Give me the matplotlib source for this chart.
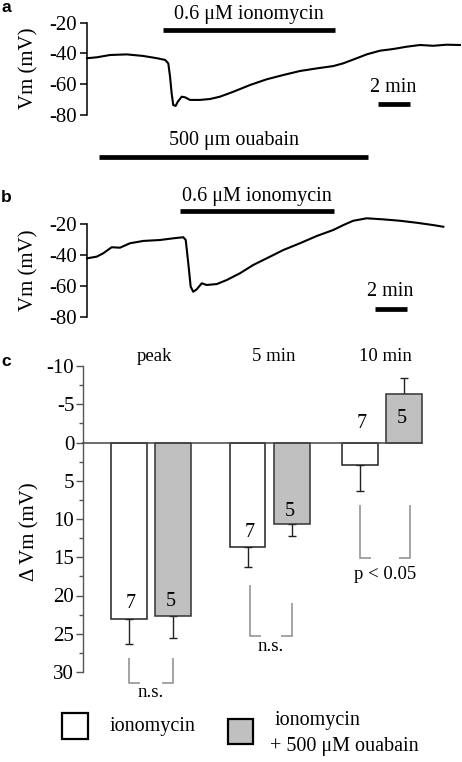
import matplotlib
matplotlib.use('Agg')
import matplotlib.pyplot as plt
from matplotlib.patches import Rectangle
from matplotlib.transforms import blended_transform_factory
from matplotlib.ticker import MultipleLocator, FuncFormatter

plt.rcParams['font.family'] = ['Liberation Serif', 'DejaVu Serif']
plt.rcParams['axes.unicode_minus'] = False

# ---------------- data ----------------
# panel a: membrane potential trace (time in min, Vm in mV)
time_a = [0.0, 0.61, 1.44, 2.48, 3.5, 4.38, 4.88, 5.08, 5.19, 5.29, 5.39, 5.54, 5.67,
          5.92, 6.13, 6.44, 7.06, 7.69, 8.31, 9.14, 10.19, 11.23, 12.27, 13.31, 14.36,
          15.39, 16.02, 16.86, 17.48, 18.31, 19.14, 19.98, 20.81, 21.64, 22.48, 23.31]
vm_a = [-43.1, -42.5, -41.0, -40.6, -41.6, -43.1, -44.2, -46.4, -55.0, -65.9, -73.5,
        -74.1, -71.4, -68.1, -68.5, -70.2, -70.2, -69.6, -68.1, -64.9, -60.5, -56.8,
        -54.0, -51.4, -49.7, -48.2, -46.4, -43.1, -40.6, -38.2, -37.1, -35.6, -34.5,
        -35.0, -34.3, -34.5]
iono_a = [4.77, 15.5]

# panel b
time_b = [0.0, 0.61, 1.02, 1.54, 2.06, 2.69, 3.52, 4.56, 5.39, 6.02, 6.17, 6.33, 6.48,
          6.64, 6.86, 7.17, 7.48, 8.11, 8.73, 9.56, 10.39, 11.23, 12.27, 13.31, 14.36,
          15.39, 16.02, 16.64, 17.48, 18.52, 19.56, 20.61, 21.64, 22.27]
vm_b = [-42.1, -41.0, -38.8, -34.9, -35.2, -32.3, -30.8, -30.2, -29.1, -28.4, -30.2,
        -45.3, -60.5, -63.8, -62.2, -58.3, -59.4, -58.8, -56.2, -51.8, -46.4, -42.1,
        -36.7, -32.3, -27.6, -23.7, -20.5, -17.7, -16.1, -16.8, -17.7, -19.0, -20.5,
        -21.6]
ouabain_b = [0.77, 17.58]
iono_b = [5.81, 15.44]

vm_ticks = [-80, -60, -40, -20]
scale_len = 2  # min

# panel c
groups = ['peak', '5 min', '10 min']
iono_mean = [23.1, 13.7, 3.0]
iono_err = [3.3, 2.6, 3.3]
ouab_mean = [22.7, 10.7, -6.35]
ouab_err = [2.9, 1.5, 2.05]
iono_n = [7, 7, 7]
ouab_n = [5, 5, 5]
sig_labels = ['n.s.', 'n.s.', 'p < 0.05']

# ---------------- layout ----------------
W, H = 462, 762
fig = plt.figure(figsize=(W / 100, H / 100), dpi=100)


def rect(l, t, r, b):
    return [l / W, 1 - b / H, (r - l) / W, (b - t) / H]


def fy(y):
    return 1 - y / H


FS = 14.5
TRACE_LW = 1.5
BAR_LW = 3.4
LETTER_FS = 12.5


def trace_panel(ax_rect, t, v, drugs, scale_x, scale_y, scale_text_y, label, label_y, ylab_y):
    ax = fig.add_axes(ax_rect)
    ax.plot(t, v, color='black', lw=TRACE_LW, solid_joinstyle='round', clip_on=False)
    ax.set_xlim(0, (W - 87) / 16)
    ax.set_ylim(-80, -20)
    ax.set_yticks(vm_ticks)
    ax.yaxis.set_major_formatter(FuncFormatter(lambda val, p: '%d' % val))
    ax.tick_params(axis='y', direction='out', length=5, width=1.1, pad=2.5,
                   labelsize=15, colors='black')
    ax.set_xticks([])
    for s in ['top', 'right', 'bottom']:
        ax.spines[s].set_visible(False)
    ax.spines['left'].set_linewidth(1.1)
    ax.patch.set_alpha(0)
    tr = blended_transform_factory(ax.transData, fig.transFigure)
    for (t0, t1), bar_y, text, text_y in drugs:
        ax.plot([t0, t1], [fy(bar_y), fy(bar_y)], color='black', lw=BAR_LW,
                transform=tr, clip_on=False, solid_capstyle='butt')
        ax.text((t0 + t1) / 2, fy(text_y), text, transform=tr, ha='center',
                va='center', fontsize=FS)
    ax.plot([scale_x, scale_x + scale_len], [fy(scale_y), fy(scale_y)], color='black',
            lw=BAR_LW, transform=tr, clip_on=False, solid_capstyle='butt')
    ax.text(scale_x + scale_len / 2 - 0.08, fy(scale_text_y), '%d min' % scale_len,
            transform=tr, ha='center', va='center', fontsize=FS)
    fig.text(1 / W, fy(label_y), label, family='Liberation Sans', weight='bold',
             fontsize=LETTER_FS, ha='left', va='center')
    fig.text(29 / W, fy(ylab_y), 'Vm (mV)', rotation=90, ha='center', va='center',
             fontsize=15)
    return ax


trace_panel(rect(87, 22.7, W, 115), time_a, vm_a,
            [(iono_a, 30, '0.6 \u03bcM ionomycin', 15)],
            18.2, 104.3, 88, 'a', 7, 68)
trace_panel(rect(87, 224.3, W, 316.7), time_b, vm_b,
            [(ouabain_b, 157.3, '500 \u03bcm ouabain', 140),
             (iono_b, 210.7, '0.6 \u03bcM ionomycin', 196.5)],
            18.0, 309.3, 291.5, 'b', 197, 270)

# ---------------- panel c ----------------
axc = fig.add_axes(rect(83.3, 366, W, 672))
axc.set_xlim(-0.586, 2.693)
axc.set_ylim(30, -10)
gpos = [0.0, 1.03, 2.0]
off = 0.192
bw = 0.307
gray = '#c0c0c0'

xi = [g - off for g in gpos]
xo = [g + off for g in gpos]


def yerr(means, errs):
    lo = [e if m < 0 else 0 for m, e in zip(means, errs)]
    hi = [e if m >= 0 else 0 for m, e in zip(means, errs)]
    return [lo, hi]


axc.bar(xi, iono_mean, width=bw, color='white', edgecolor='#222222', linewidth=1.1,
        zorder=3, yerr=yerr(iono_mean, iono_err), capsize=3,
        error_kw=dict(ecolor='#222222', elinewidth=1.0, capthick=1.0, zorder=2))
axc.bar(xo, ouab_mean, width=bw, color=gray, edgecolor='#333333', linewidth=1.1,
        zorder=3, yerr=yerr(ouab_mean, ouab_err), capsize=3,
        error_kw=dict(ecolor='#222222', elinewidth=1.0, capthick=1.0, zorder=2))
axc.plot([axc.get_xlim()[0], xo[-1] + bw / 2], [0, 0], color='#444444', lw=1.1,
         zorder=4, clip_on=False)

# n labels
n_y_iono = [21.1, 11.7, -2.5]
n_y_ouab = [20.8, 9.0, -3.2]
for x, y, n in zip(xi, n_y_iono, iono_n):
    axc.text(x + 0.02, y, str(n), ha='center', va='center', fontsize=FS, zorder=5)
for x, y, n in zip(xo, n_y_ouab, ouab_n):
    axc.text(x - 0.02, y, str(n), ha='center', va='center', fontsize=FS, zorder=5)

# group labels
for g, name in zip(gpos, groups):
    axc.text(g + 0.03, -11.2, name, ha='center', va='center', fontsize=13.5,
             clip_on=False)

# significance brackets
br = [((28.2, 31.4), (28.2, 31.4), 32.7),
      ((18.6, 25.3), (21.0, 25.3), 26.7),
      ((8.2, 15.1), (8.2, 15.1), 17.2)]
foot = 0.095
for i, ((l0, l1), (r0, r1), ty) in enumerate(br):
    xl = xi[i] + (0.02 if i == 1 else 0)
    xr = xo[i] + (0.05 if i == 2 else 0)
    kw = dict(color='#8c8c8c', lw=1.1, clip_on=False, solid_capstyle='butt',
              solid_joinstyle='miter')
    axc.plot([xl, xl, xl + foot], [l0, l1, l1], **kw)
    axc.plot([xr - foot, xr, xr], [r1, r1, r0], **kw)
    axc.text((xl + xr) / 2, ty, sig_labels[i], ha='center', va='center',
             fontsize=13.5, clip_on=False)

axc.yaxis.set_major_locator(MultipleLocator(5))
axc.yaxis.set_minor_locator(MultipleLocator(2.5))
axc.yaxis.set_major_formatter(FuncFormatter(lambda val, p: '%d' % val))
axc.tick_params(axis='y', which='major', direction='out', length=5, width=1.0,
                pad=1.5, labelsize=15, color='#555555')
axc.tick_params(axis='y', which='minor', direction='out', length=3, width=1.0,
                color='#555555')
axc.set_xticks([])
for s in ['top', 'right', 'bottom']:
    axc.spines[s].set_visible(False)
axc.spines['left'].set_color('#555555')
axc.spines['left'].set_linewidth(1.0)
axc.patch.set_alpha(0)

fig.text(1 / W, fy(362), 'c', family='Liberation Sans', weight='bold',
         fontsize=LETTER_FS, ha='left', va='center')
fig.text(30 / W, fy(532), '\u0394 Vm (mV)', rotation=90, ha='center', va='center',
         fontsize=15)

# legend
fig.patches.append(Rectangle((62 / W, fy(739)), 26 / W, 26 / H, transform=fig.transFigure,
                             facecolor='white', edgecolor='black', lw=1.6))
fig.patches.append(Rectangle((228 / W, fy(744)), 25 / W, 25 / H, transform=fig.transFigure,
                             facecolor=gray, edgecolor='black', lw=1.6))
fig.text(110 / W, fy(727), 'ionomycin', ha='left', va='center', fontsize=FS)
fig.text(275 / W, fy(721), 'ionomycin', ha='left', va='center', fontsize=FS)
fig.text(270 / W, fy(746), '+ 500 \u03bcM ouabain', ha='left', va='center', fontsize=FS)

fig.savefig('out.png', dpi=100)
